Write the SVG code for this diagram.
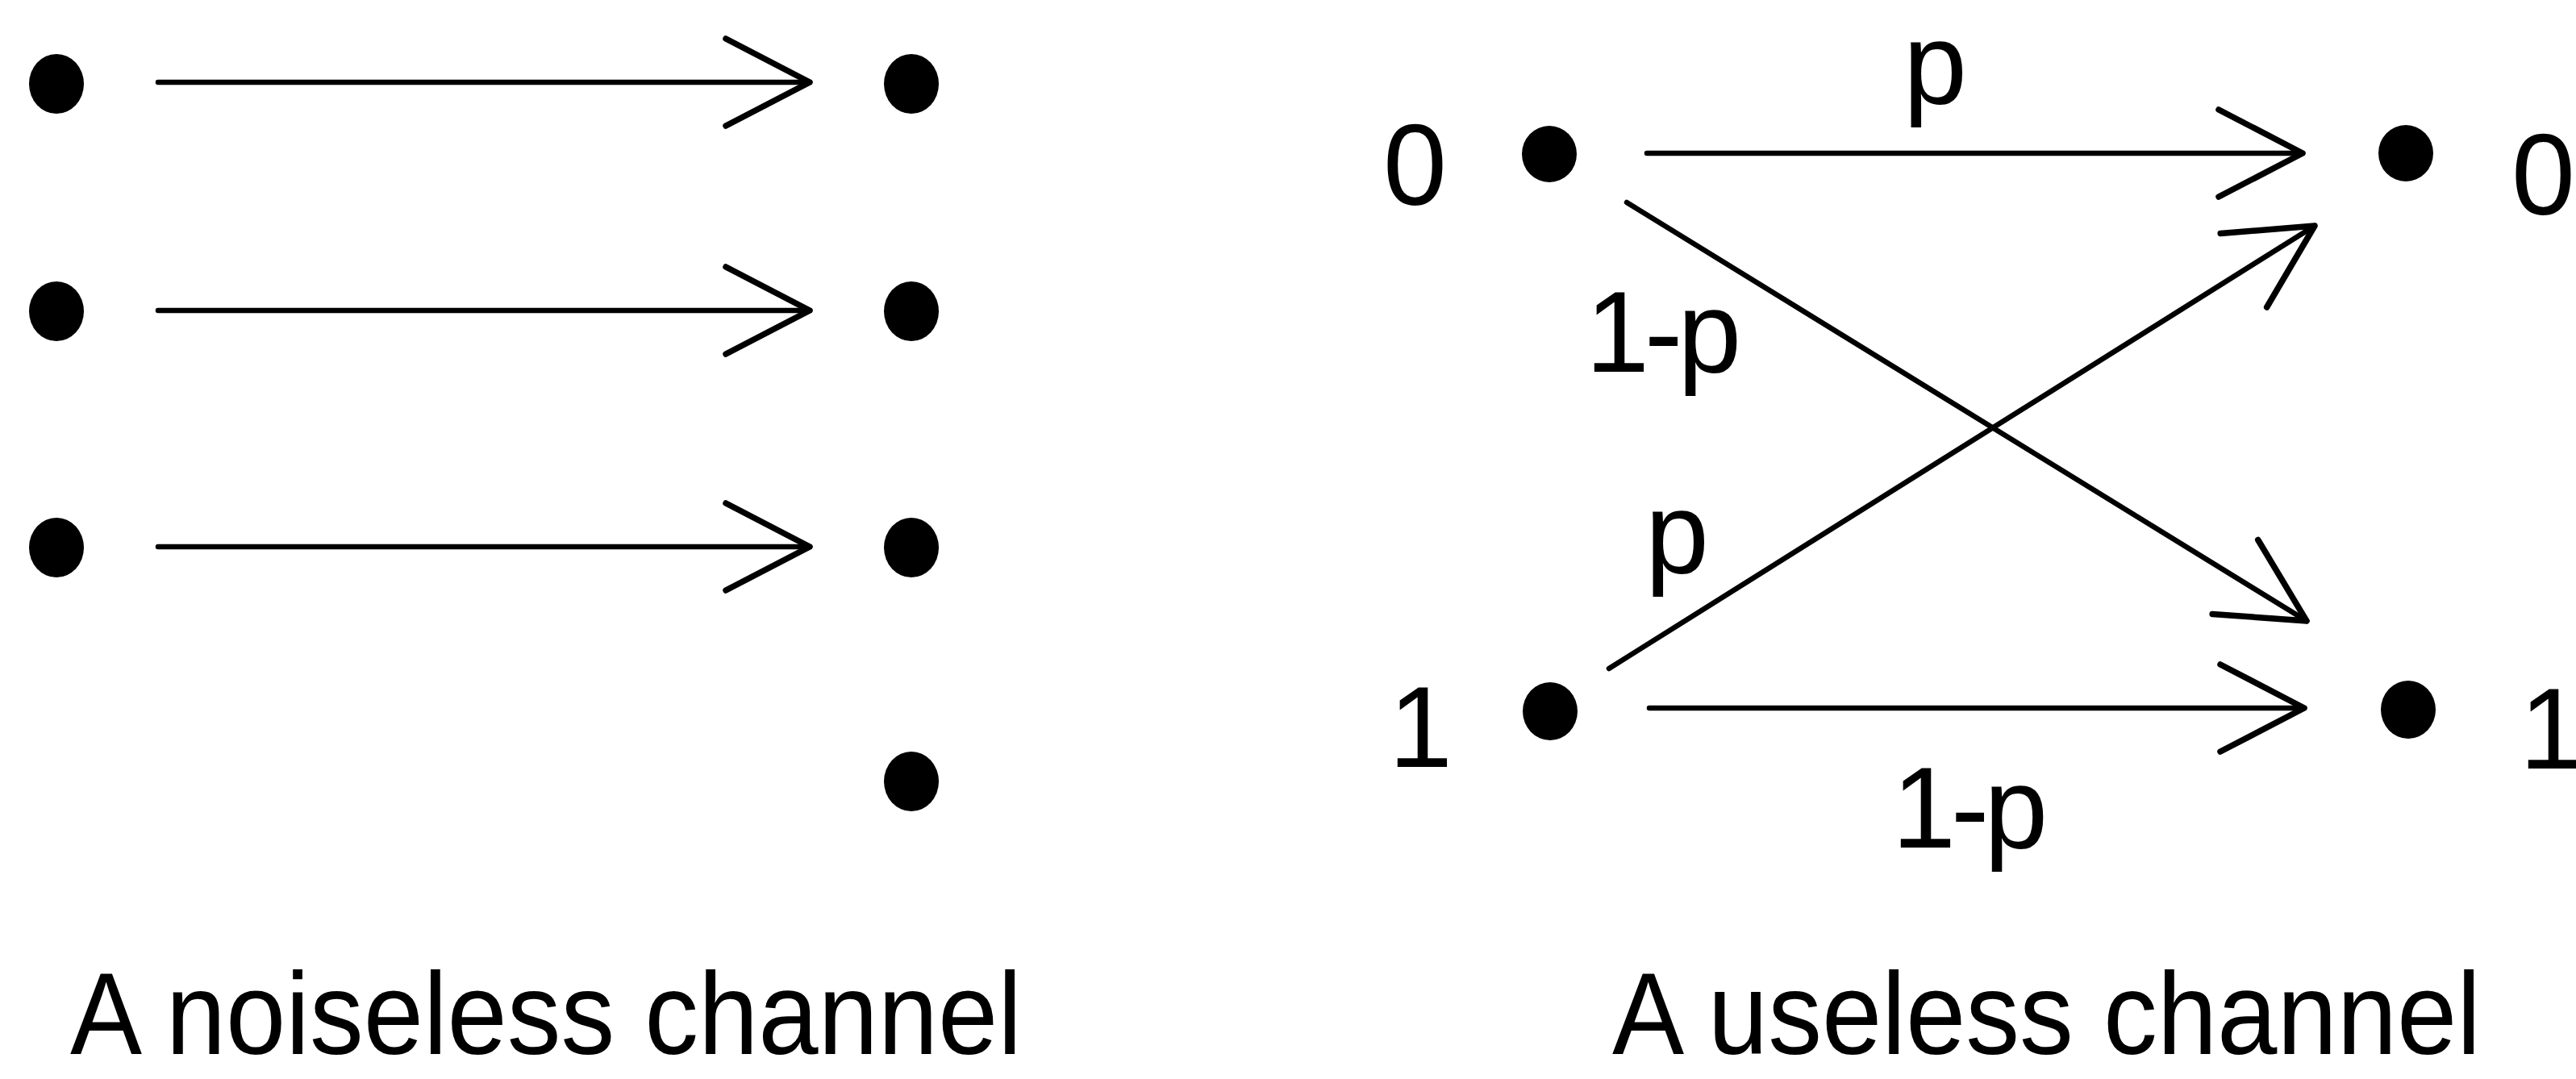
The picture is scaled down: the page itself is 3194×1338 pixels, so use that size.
<svg xmlns="http://www.w3.org/2000/svg" width="3194" height="1338" viewBox="0 0 3194 1338">
  <style>
    .dot { fill: #000; }
    .wire { stroke: #000; stroke-width: 6.5; fill: none; stroke-linecap: round; marker-end: url(#chevron); }
    .lbl { font-family: "Liberation Sans", Arial, Helvetica, sans-serif; font-size: 142px; fill: #000; }
    .tight { letter-spacing: -6px; }
    .edge { letter-spacing: -12px; }
    .caption { font-family: "Liberation Sans", Arial, Helvetica, sans-serif; font-size: 145px; fill: #000; }
  </style>
  <defs>
    <!-- open V-shaped arrowhead, tip at the path end -->
    <marker id="chevron" markerUnits="userSpaceOnUse" markerWidth="1" markerHeight="1" refX="0" refY="0" orient="auto" overflow="visible">
      <path d="M -104 -54 L 0 0 L -104 54" fill="none" stroke="#000" stroke-width="7.5" stroke-linecap="round" stroke-linejoin="round"/>
    </marker>
  </defs>
  <rect width="3194" height="1338" fill="#fff"/>

  <!-- Left: noiseless channel -->
  <g id="noiseless-in-1"><ellipse class="dot" cx="70" cy="104" rx="34" ry="37"/></g>
  <g id="noiseless-in-2"><ellipse class="dot" cx="70" cy="386" rx="34" ry="37"/></g>
  <g id="noiseless-in-3"><ellipse class="dot" cx="70" cy="679" rx="34" ry="37"/></g>
  <g id="noiseless-out-1"><ellipse class="dot" cx="1130" cy="104" rx="34" ry="37"/></g>
  <g id="noiseless-out-2"><ellipse class="dot" cx="1130" cy="386" rx="34" ry="37"/></g>
  <g id="noiseless-out-3"><ellipse class="dot" cx="1130" cy="679" rx="34" ry="37"/></g>
  <g id="noiseless-out-4"><ellipse class="dot" cx="1130" cy="969" rx="34" ry="37"/></g>

  <!-- Right: useless channel -->
  <g id="useless-in-0">
    <text class="lbl" x="1715" y="254">0</text>
    <ellipse class="dot" cx="1921" cy="191" rx="34" ry="35"/>
  </g>
  <g id="useless-in-1">
    <text class="lbl" x="1722" y="951">1</text>
    <ellipse class="dot" cx="1922" cy="882" rx="34" ry="36"/>
  </g>
  <g id="useless-out-0">
    <ellipse class="dot" cx="2983" cy="190" rx="34" ry="35"/>
    <text class="lbl edge" x="3114" y="266">0</text>
  </g>
  <g id="useless-out-1">
    <ellipse class="dot" cx="2986" cy="880" rx="34" ry="36"/>
    <text class="lbl edge" x="3124" y="953">1</text>
  </g>

  <g id="connectors">
    <line class="wire" x1="196" y1="102" x2="1004" y2="102"/>
    <line class="wire" x1="196" y1="385" x2="1004" y2="385"/>
    <line class="wire" x1="196" y1="678" x2="1004" y2="678"/>

    <line class="wire" x1="2042" y1="190" x2="2855" y2="190"/>
    <line class="wire" x1="2017" y1="251" x2="2860" y2="770"/>
    <line class="wire" x1="1995" y1="829" x2="2870" y2="280"/>
    <line class="wire" x1="2045" y1="878" x2="2857" y2="878"/>

    <text class="lbl" x="2360" y="128">p</text>
    <text class="lbl tight" x="1966" y="461">1-p</text>
    <text class="lbl" x="2040" y="710">p</text>
    <text class="lbl tight" x="2346" y="1051">1-p</text>
  </g>

  <text class="caption" x="87" y="1307" textLength="1180" lengthAdjust="spacingAndGlyphs">A noiseless channel</text>
  <text class="caption" x="1999" y="1307" textLength="1077" lengthAdjust="spacingAndGlyphs">A useless channel</text>
</svg>
